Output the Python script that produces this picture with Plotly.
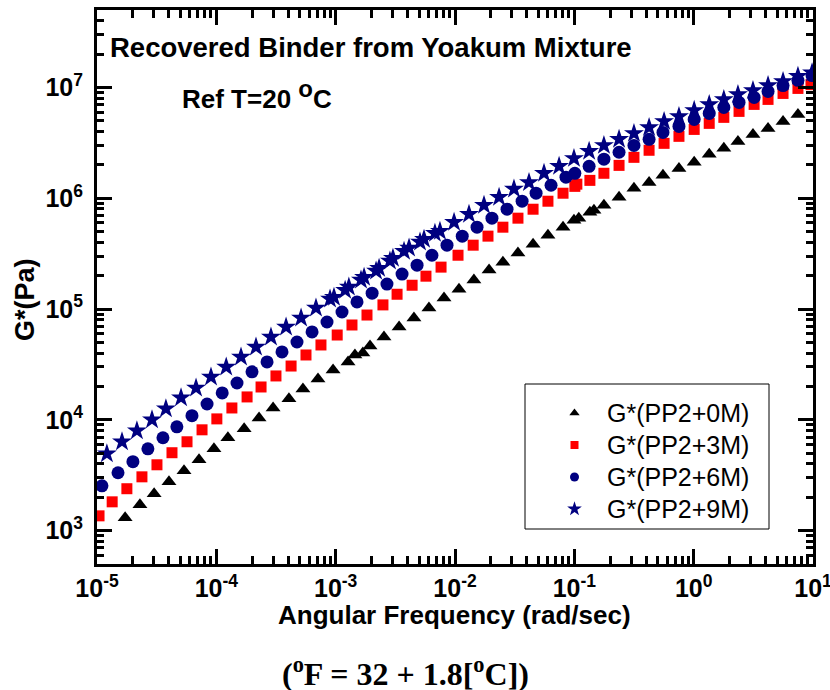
import plotly.graph_objects as go

# ---- data ----
names = ["G*(PP2+0M)", "G*(PP2+3M)", "G*(PP2+6M)", "G*(PP2+9M)"]

freq_0m = [1.72e-5, 2.29e-5, 3.01e-5, 4.01e-5, 5.36e-5, 7.16e-5, 9.55e-5, 1.25e-4, 1.71e-4, 2.28e-4,
           2.99e-4, 4.06e-4, 5.32e-4, 7.11e-4, 9.51e-4, 1.27e-3, 1.45e-3, 1.69e-3, 1.94e-3, 2.54e-3,
           3.40e-3, 4.53e-3, 6.05e-3, 8.09e-3, 1.08e-2, 1.44e-2, 1.93e-2, 2.52e-2, 3.37e-2, 4.51e-2,
           6.01e-2, 8.04e-2, 9.93e-2, 0.109, 0.135, 0.146, 0.177, 0.237, 0.316, 0.423,
           0.553, 0.753, 1.01, 1.35, 1.79, 2.35, 3.14, 4.20, 5.61, 7.48]
g_0m = [1.31e3, 1.71e3, 2.15e3, 2.76e3, 3.47e3, 4.36e3, 5.48e3, 6.89e3, 8.29e3, 1.04e4,
        1.28e4, 1.55e4, 1.90e4, 2.34e4, 2.82e4, 3.33e4, 3.85e4, 4.01e4, 4.64e4, 5.60e4,
        6.88e4, 8.30e4, 1.02e5, 1.26e5, 1.51e5, 1.83e5, 2.25e5, 2.65e5, 3.20e5, 3.85e5,
        4.64e5, 5.48e5, 6.34e5, 6.61e5, 7.48e5, 7.80e5, 8.65e5, 1.02e6, 1.23e6, 1.39e6,
        1.61e6, 1.86e6, 2.11e6, 2.49e6, 2.82e6, 3.26e6, 3.77e6, 4.27e6, 4.94e6, 5.71e6]

freq_3m = [1.04e-5, 1.34e-5, 1.78e-5, 2.38e-5, 3.18e-5, 4.25e-5, 5.68e-5, 7.59e-5, 1.01e-4, 1.35e-4,
           1.81e-4, 2.37e-4, 3.16e-4, 4.23e-4, 5.64e-4, 7.53e-4, 1.03e-3, 1.37e-3, 1.83e-3, 2.49e-3,
           3.27e-3, 4.37e-3, 5.71e-3, 7.64e-3, 1.06e-2, 1.42e-2, 1.89e-2, 2.52e-2, 3.37e-2, 4.51e-2,
           6.01e-2, 8.04e-2, 0.101, 0.105, 0.135, 0.177, 0.237, 0.316, 0.423, 0.565,
           0.753, 1.01, 1.35, 1.79, 2.40, 3.21, 4.20, 5.61, 7.48, 9.62]
g_3m = [1.36e3, 1.82e3, 2.39e3, 3.06e3, 3.93e3, 5.05e3, 6.34e3, 8.13e3, 1.02e4, 1.28e4,
        1.61e4, 1.98e4, 2.49e4, 3.06e4, 3.85e4, 4.74e4, 5.83e4, 7.18e4, 8.83e4, 1.09e5,
        1.36e5, 1.64e5, 1.98e5, 2.39e5, 3.06e5, 3.77e5, 4.55e5, 5.48e5, 6.61e5, 7.96e5,
        9.40e5, 1.11e6, 1.28e6, 1.34e6, 1.45e6, 1.68e6, 1.98e6, 2.34e6, 2.71e6, 3.13e6,
        3.62e6, 4.18e6, 4.74e6, 5.37e6, 6.08e6, 7.03e6, 7.80e6, 8.83e6, 9.80e6, 1.06e7]

freq_6m = [1.10e-5, 1.50e-5, 2.00e-5, 2.67e-5, 3.57e-5, 4.67e-5, 6.25e-5, 8.36e-5, 1.12e-4, 1.49e-4,
           1.99e-4, 2.66e-4, 3.55e-4, 4.74e-4, 6.34e-4, 8.46e-4, 1.13e-3, 1.51e-3, 2.02e-3, 2.69e-3,
           3.60e-3, 4.81e-3, 6.41e-3, 8.57e-3, 1.15e-2, 1.53e-2, 2.04e-2, 2.73e-2, 3.65e-2, 4.78e-2,
           6.38e-2, 8.51e-2, 0.101, 0.133, 0.177, 0.237, 0.316, 0.423, 0.553, 0.753,
           1.01, 1.35, 1.79, 2.40, 3.21, 4.20, 5.61, 7.48, 9.82]
g_6m = [2.54e3, 3.33e3, 4.19e3, 5.48e3, 6.89e3, 8.65e3, 1.09e4, 1.39e4, 1.75e4, 2.15e4,
        2.71e4, 3.33e4, 4.10e4, 5.04e4, 6.21e4, 7.64e4, 9.40e4, 1.16e5, 1.39e5, 1.68e5,
        2.07e5, 2.49e5, 3.06e5, 3.77e5, 4.55e5, 5.48e5, 6.61e5, 7.96e5, 9.40e5, 1.11e6,
        1.31e6, 1.55e6, 1.68e6, 1.94e6, 2.25e6, 2.60e6, 3.00e6, 3.40e6, 3.93e6, 4.45e6,
        5.15e6, 5.83e6, 6.60e6, 7.32e6, 8.13e6, 9.20e6, 1.04e7, 1.16e7, 1.28e7]

freq_9m = [1.21e-5, 1.62e-5, 2.16e-5, 2.89e-5, 3.78e-5, 5.06e-5, 6.76e-5, 9.02e-5, 1.21e-4, 1.61e-4,
           2.15e-4, 2.87e-4, 3.84e-4, 5.13e-4, 6.84e-4, 8.97e-4, 9.68e-4, 1.20e-3, 1.29e-3, 1.63e-3,
           1.73e-3, 2.18e-3, 2.31e-3, 2.85e-3, 3.02e-3, 3.74e-3, 4.12e-3, 5.09e-3, 5.50e-3, 6.79e-3,
           7.48e-3, 9.82e-3, 1.31e-2, 1.75e-2, 2.34e-2, 3.12e-2, 4.17e-2, 5.57e-2, 7.45e-2, 9.93e-2,
           0.133, 0.177, 0.237, 0.316, 0.423, 0.565, 0.753, 1.01, 1.35, 1.79,
           2.35, 3.14, 4.20, 5.61, 7.48, 9.82]
g_9m = [4.94e3, 6.34e3, 7.96e3, 1.00e4, 1.26e4, 1.58e4, 1.94e4, 2.44e4, 3.00e4, 3.70e4,
        4.55e4, 5.60e4, 6.88e4, 8.30e4, 1.02e5, 1.23e5, 1.28e5, 1.48e5, 1.58e5, 1.83e5,
        1.94e5, 2.20e5, 2.34e5, 2.71e5, 2.88e5, 3.33e5, 3.55e5, 4.02e5, 4.27e5, 4.84e5,
        5.04e5, 6.08e5, 7.18e5, 8.65e5, 1.02e6, 1.21e6, 1.39e6, 1.68e6, 1.94e6, 2.29e6,
        2.65e6, 3.00e6, 3.40e6, 3.85e6, 4.36e6, 4.94e6, 5.48e6, 6.21e6, 7.03e6, 7.80e6,
        8.65e6, 9.40e6, 1.04e7, 1.13e7, 1.26e7, 1.36e7]

x_tick_exps = [-5, -4, -3, -2, -1, 0, 1]
y_tick_exps = [3, 4, 5, 6, 7]

# ---- style ----
series = [
    (freq_0m, g_0m, "triangle-up", "black", 13, 9),
    (freq_3m, g_3m, "square", "#ff0000", 11, 8),
    (freq_6m, g_6m, "circle", "#000080", 13, 9),
    (freq_9m, g_9m, "star", "#000080", 15, 11),
]

fig = go.Figure()
for (xv, yv, sym, col, sz, lsz), nm in zip(series, names):
    fig.add_trace(go.Scatter(x=xv, y=yv, mode="markers", name=nm, showlegend=False,
                             marker=dict(symbol=sym, color=col, size=sz, line=dict(width=0))))
for (xv, yv, sym, col, sz, lsz), nm in zip(series, names):
    fig.add_trace(go.Scatter(x=[None], y=[None], mode="markers",
                             name='<span style="font-size:25px">%s</span>' % nm,
                             showlegend=True, legendgroup=nm,
                             marker=dict(symbol=sym, color=col, size=lsz, line=dict(width=0))))

W, H = 830, 690
L, R, T, B = 97, 17, 10, 126
pw, ph = W - L - R, H - T - B

def px(x):
    return (x - L) / pw

def py(y):
    return (H - B - y) / ph

def minor_vals(e0, e1):
    return [m * 10.0 ** e for e in range(e0, e1) for m in range(2, 10)]

tickfont = dict(family="Liberation Sans", size=25, color="black")
axis_common = dict(type="log", showline=True, linewidth=3, linecolor="black", mirror="ticks",
                   ticks="inside", ticklen=15, tickwidth=2.5, tickcolor="black",
                   showgrid=False, zeroline=False, tickfont=tickfont,
                   ticklabeloverflow="allow", automargin=False)

fig.update_xaxes(**axis_common, range=[-5, 1],
                 tickvals=[10.0 ** e for e in x_tick_exps],
                 ticktext=["<b>10<sup>%d</sup></b>" % e for e in x_tick_exps],
                 minor=dict(ticks="inside", ticklen=8, tickwidth=2.5, tickcolor="black",
                            tickvals=minor_vals(-5, 1), showgrid=False))
fig.update_yaxes(**axis_common, range=[2.69897, 7.69897], ticklabelstandoff=6,
                 tickvals=[10.0 ** e for e in y_tick_exps],
                 ticktext=["<b>10<sup>%d</sup></b>" % e for e in y_tick_exps],
                 minor=dict(ticks="inside", ticklen=7, tickwidth=2.5, tickcolor="black",
                            tickvals=minor_vals(2, 8), showgrid=False))

ann = [
    dict(text="<b>Recovered Binder from Yoakum Mixture</b>", x=px(108), y=py(48),
         xanchor="left", yanchor="middle", font=dict(size=27.5)),
    dict(text='<b>Ref T=20 <sup><span style="font-size:24px">o</span></sup>C</b>',
         x=px(180), y=py(95), xanchor="left", yanchor="middle", font=dict(size=26)),
    dict(text="<b>Angular Frequency (rad/sec)</b>", x=px(454), y=py(615),
         xanchor="center", yanchor="middle", font=dict(size=26)),
    dict(text="<b>G*(Pa)</b>", x=px(25), y=py(300), textangle=-90,
         xanchor="center", yanchor="middle", font=dict(size=27)),
    dict(text="<b>(<sup>o</sup>F = 32 + 1.8[<sup>o</sup>C])</b>", x=px(405), y=py(672),
         xanchor="center", yanchor="middle",
         font=dict(size=32, family="Liberation Serif")),
]
for a in ann:
    a.update(xref="paper", yref="paper", showarrow=False)
    a["font"].setdefault("family", "Liberation Sans")
    a["font"]["color"] = "black"

fig.update_layout(
    width=W, height=H, margin=dict(l=L, r=R, t=T, b=B, pad=0, autoexpand=False),
    paper_bgcolor="white", plot_bgcolor="white",
    annotations=ann,
    shapes=[dict(type="rect", xref="paper", yref="paper", x0=px(525), x1=px(769),
                 y0=py(529), y1=py(384), line=dict(color="black", width=1))],
    legend=dict(x=px(542), y=py(392), xanchor="left", yanchor="top",
                bgcolor="rgba(0,0,0,0)", borderwidth=0, traceorder="grouped",
                tracegroupgap=0, itemwidth=55,
                font=dict(family="Liberation Sans", size=22.3, color="black")),
)

fig.write_html("out.html")
